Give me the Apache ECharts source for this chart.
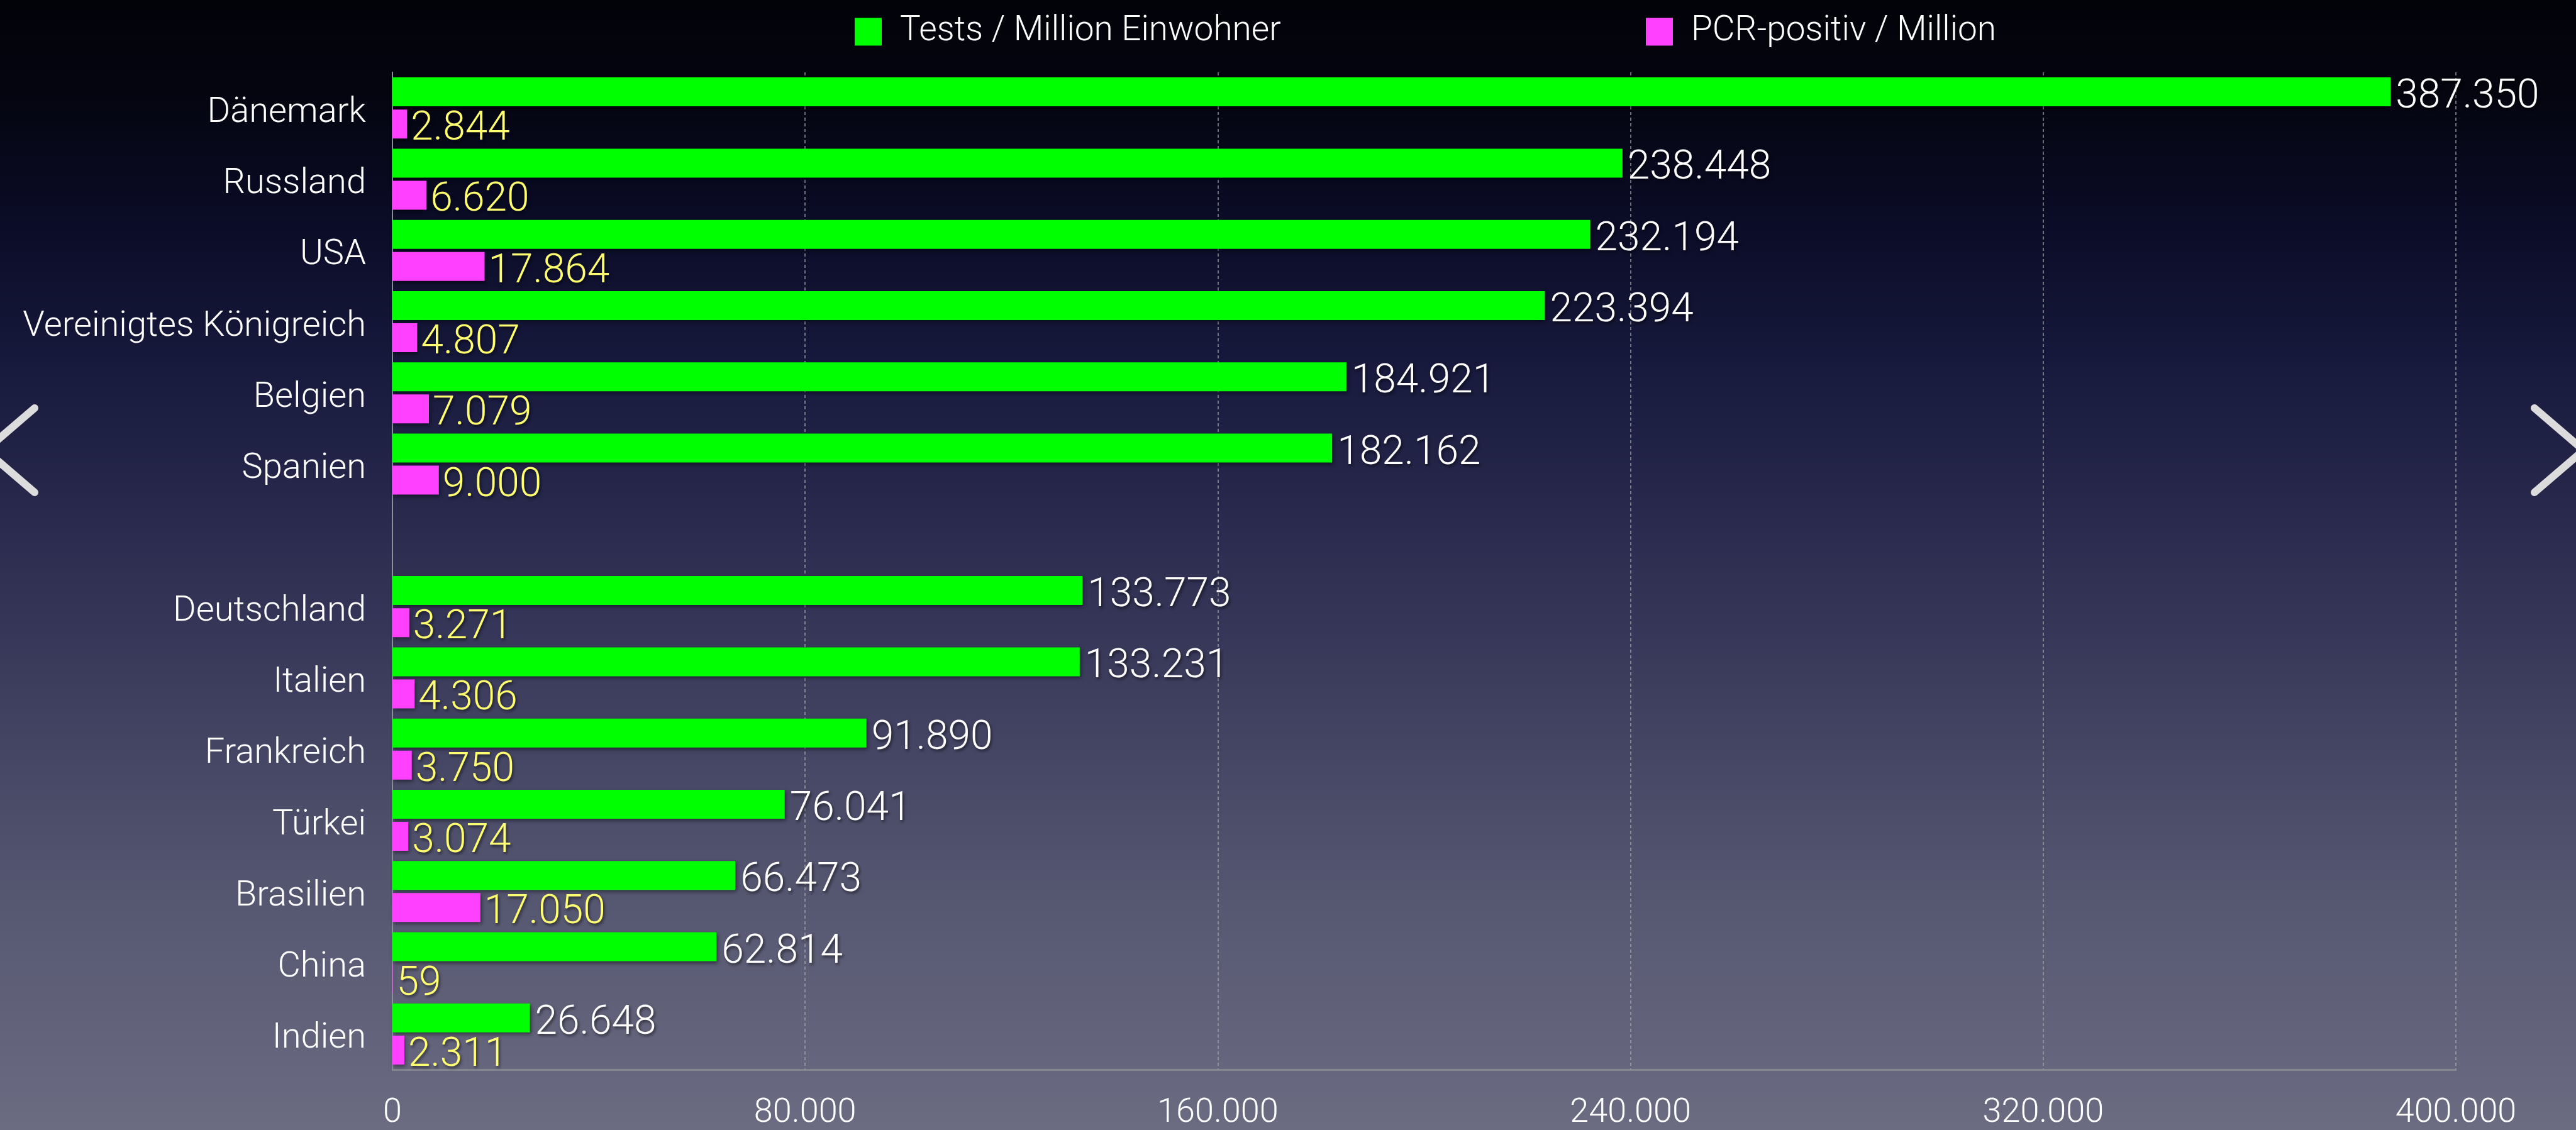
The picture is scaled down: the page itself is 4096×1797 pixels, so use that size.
<!DOCTYPE html>
<html>
<head>
<meta charset="utf-8">
<title>Tests / Million Einwohner</title>
<script src="https://cdn.jsdelivr.net/npm/echarts@6/dist/echarts.min.js"></script>
<style>
  html, body { margin: 0; padding: 0; width: 100%; height: 100%; overflow: hidden; }
  #chart { width: 4096px; height: 1797px; }
</style>
</head>
<body>
<div id="chart"></div>
<script>
// Laender von oben nach unten, '' = Leerzeile zwischen den Gruppen
var countries = ['Dänemark', 'Russland', 'USA', 'Vereinigtes Königreich', 'Belgien', 'Spanien', '',
  'Deutschland', 'Italien', 'Frankreich', 'Türkei', 'Brasilien', 'China', 'Indien'];
var testsPerMillion = [387350, 238448, 232194, 223394, 184921, 182162, '-',
  133773, 133231, 91890, 76041, 66473, 62814, 26648];
var positivePerMillion = [2844, 6620, 17864, 4807, 7079, 9000, '-',
  3271, 4306, 3750, 3074, 17050, 59, 2311];
var seriesNames = ['Tests / Million Einwohner', 'PCR-positiv / Million'];
var xTicks = [0, 80000, 160000, 240000, 320000, 400000];

var FONT = 'Roboto';

function fmt (v) {
	return String(v).replace(/\B(?=(\d{3})+(?!\d))/g, '.');
}

var shadowText = {
	textShadowColor: 'rgba(0,0,0,0.55)',
	textShadowBlur: 4,
	textShadowOffsetX: 2,
	textShadowOffsetY: 3
};

var chart = echarts.init(document.getElementById('chart'));

chart.setOption({
	backgroundColor: {
		type: 'linear', x: 0, y: 0, x2: 0, y2: 1,
		colorStops: [
			{ offset: 0, color: '#020309' },
			{ offset: 0.08, color: '#04050f' },
			{ offset: 0.2, color: '#0b0c27' },
			{ offset: 0.33, color: '#181a3e' },
			{ offset: 0.47, color: '#2a2b4e' },
			{ offset: 0.6, color: '#3c3d5d' },
			{ offset: 0.75, color: '#50516c' },
			{ offset: 0.88, color: '#5f6078' },
			{ offset: 1, color: '#6b6c82' }
		]
	},
	animation: false,
	legend: [{
		data: [seriesNames[0]],
		left: 1354,
		top: 18,
		itemWidth: 43,
		itemHeight: 44,
		icon: 'rect',
		textStyle: { color: '#fff', fontSize: 55, fontFamily: FONT, fontWeight: 300, padding: [0, 0, 0, 24] }
	}, {
		data: [seriesNames[1]],
		left: 2612,
		top: 18,
		itemWidth: 43,
		itemHeight: 44,
		icon: 'rect',
		textStyle: { color: '#fff', fontSize: 55, fontFamily: FONT, fontWeight: 300, padding: [0, 0, 0, 24] }
	}],
	grid: {
		left: 624,
		right: 191,
		top: 115,
		bottom: 89,
		containLabel: false
	},
	xAxis: {
		type: 'value',
		min: 0,
		max: 400000,
		interval: 80000,
		axisLine: { show: true, onZero: false, lineStyle: { color: '#8f8f96', width: 2.5 } },
		axisTick: { show: false },
		splitLine: {
			show: true,
			lineStyle: { color: 'rgba(170,170,175,0.8)', width: 1.6, type: [5, 4] }
		},
		axisLabel: {
			color: '#fff',
			fontSize: 54,
			fontFamily: FONT,
			fontWeight: 300,
			margin: 42,
			formatter: function (v) { return xTicks.indexOf(v) >= 0 ? fmt(v) : ''; }
		}
	},
	yAxis: {
		type: 'category',
		inverse: true,
		data: countries,
		axisLine: { show: true, lineStyle: { color: '#8f8f96', width: 2 } },
		axisTick: { show: false },
		splitLine: { show: false },
		axisLabel: {
			margin: 42,
			formatter: function (v) { return v ? '{c|' + v + '}' : ''; },
			rich: {
				c: {
					color: '#fff',
					fontSize: 56,
					fontFamily: FONT,
					fontWeight: 300,
					padding: [16, 0, 0, 0]
				}
			}
		}
	},
	series: [{
		name: seriesNames[0],
		type: 'bar',
		data: testsPerMillion,
		barWidth: 46,
		barGap: '11%',
		itemStyle: {
			color: '#00ff00',
			shadowColor: 'rgba(0,0,0,0.45)',
			shadowBlur: 6,
			shadowOffsetX: 2,
			shadowOffsetY: 3
		},
		label: Object.assign({
			show: true,
			position: 'right',
			distance: 8,
			offset: [0, 9],
			color: '#ffffff',
			fontSize: 64,
			fontFamily: FONT,
			fontWeight: 300,
			formatter: function (p) { return fmt(p.value); }
		}, shadowText)
	}, {
		name: seriesNames[1],
		type: 'bar',
		data: positivePerMillion,
		barWidth: 46,
		barGap: '11%',
		itemStyle: {
			color: '#ff40ff',
			shadowColor: 'rgba(0,0,0,0.45)',
			shadowBlur: 6,
			shadowOffsetX: 2,
			shadowOffsetY: 3
		},
		label: Object.assign({
			show: true,
			position: 'right',
			distance: 6,
			offset: [0, 9],
			color: '#ffff70',
			fontSize: 64,
			fontFamily: FONT,
			fontWeight: 300,
			formatter: function (p) { return fmt(p.value); }
		}, shadowText)
	}],
	graphic: [{
		type: 'polyline',
		shape: { points: [[55, 649], [-23, 716], [55, 783]] },
		style: { stroke: '#dcdcdc', lineWidth: 12, lineCap: 'round', lineJoin: 'round', fill: null }
	}, {
		type: 'polyline',
		shape: { points: [[4030, 649], [4108, 716], [4030, 783]] },
		style: { stroke: '#dcdcdc', lineWidth: 12, lineCap: 'round', lineJoin: 'round', fill: null }
	}]
});
</script>
</body>
</html>
